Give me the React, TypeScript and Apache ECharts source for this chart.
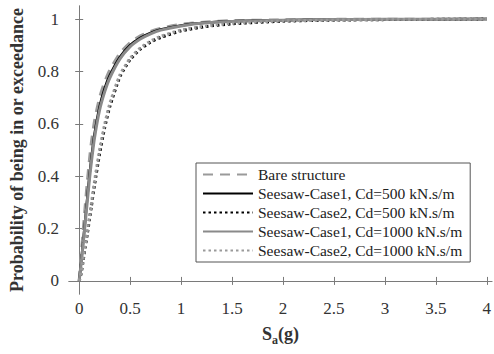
import React, { useEffect, useRef } from "react";
import * as echarts from "echarts";

const seriesNames = [
  "Bare structure",
  "Seesaw-Case1, Cd=500 kN.s/m",
  "Seesaw-Case2, Cd=500 kN.s/m",
  "Seesaw-Case1, Cd=1000 kN.s/m",
  "Seesaw-Case2, Cd=1000 kN.s/m",
];

const sa = [0, 0.02, 0.04, 0.06, 0.08, 0.1, 0.12, 0.15, 0.2, 0.25, 0.3, 0.4, 0.5, 0.6, 0.7, 0.8, 1.0, 1.25, 1.5, 2, 2.5, 3, 4];

const bare = [0, 0.1, 0.195, 0.29, 0.38, 0.46, 0.53, 0.61, 0.7, 0.76, 0.805, 0.87, 0.91, 0.936, 0.953, 0.965, 0.98, 0.989, 0.994, 0.997, 0.999, 0.9995, 1];
const case1Cd500 = [0, 0.075, 0.155, 0.235, 0.32, 0.4, 0.47, 0.56, 0.665, 0.735, 0.785, 0.855, 0.9, 0.928, 0.947, 0.96, 0.976, 0.987, 0.992, 0.996, 0.998, 0.999, 1];
const case2Cd500 = [0, 0.03, 0.08, 0.13, 0.18, 0.232, 0.285, 0.365, 0.485, 0.585, 0.665, 0.78, 0.845, 0.885, 0.912, 0.93, 0.955, 0.972, 0.982, 0.992, 0.996, 0.998, 1];
const case1Cd1000 = [0, 0.07, 0.145, 0.225, 0.305, 0.385, 0.455, 0.545, 0.652, 0.722, 0.775, 0.848, 0.895, 0.924, 0.944, 0.958, 0.974, 0.986, 0.991, 0.996, 0.998, 0.999, 1];
const case2Cd1000 = [0, 0.035, 0.085, 0.138, 0.19, 0.243, 0.297, 0.38, 0.5, 0.598, 0.677, 0.787, 0.85, 0.89, 0.916, 0.934, 0.958, 0.974, 0.984, 0.993, 0.996, 0.998, 1];

const xTicks = [0, 0.5, 1, 1.5, 2, 2.5, 3, 3.5, 4];
const yTicks = [0, 0.2, 0.4, 0.6, 0.8, 1];

const FONT = "Liberation Serif";
const AXIS_COLOR = "#7a7a7a";
const LABEL_COLOR = "#333";

export default function App() {
  const ref = useRef<HTMLDivElement>(null);
  useEffect(() => {
    if (!ref.current) return;
    const chart = echarts.init(ref.current, null, { renderer: "svg" });
    const fmt = (v: number) => String(Math.round(v * 10) / 10);
    const baseX = {
      type: "value" as const,
      min: -0.1,
      max: 4.05,
      splitLine: { show: false },
      axisLine: { show: true, lineStyle: { color: AXIS_COLOR, width: 1 } },
      axisTick: { show: true, inside: true, length: 4, customValues: xTicks, lineStyle: { color: AXIS_COLOR } },
    };
    const baseY = {
      type: "value" as const,
      min: -0.05,
      max: 1.05,
      splitLine: { show: false },
      axisLine: { show: true, lineStyle: { color: AXIS_COLOR, width: 1 } },
      axisTick: { show: true, inside: true, length: 4, customValues: yTicks, lineStyle: { color: AXIS_COLOR } },
    };
    const styles = [
      { color: "#9a9a9a", width: 3, type: [10, 7] },
      { color: "#000000", width: 2.5, type: "solid" },
      { color: "#000000", width: 3, type: [2.5, 3] },
      { color: "#8a8a8a", width: 3, type: "solid" },
      { color: "#9a9a9a", width: 3, type: [2.5, 3] },
    ];
    const datas = [bare, case1Cd500, case2Cd500, case1Cd1000, case2Cd1000];
    chart.setOption({
      animation: false,
      grid: { left: 66, right: 1, top: 6, bottom: 60, containLabel: false },
      legend: {
        orient: "vertical",
        left: 196,
        top: 163,
        width: 273,
        padding: [3, 8, 3, 6],
        backgroundColor: "#fff",
        borderColor: "#555",
        borderWidth: 1,
        borderRadius: 0,
        itemWidth: 50,
        itemHeight: 12,
        itemGap: 2,
        itemStyle: { opacity: 0 },
        textStyle: { fontFamily: FONT, fontSize: 15.5, color: "#222", lineHeight: 17 },
        data: seriesNames,
      },
      xAxis: [
        {
          ...baseX,
          position: "bottom",
          axisLabel: {
            customValues: xTicks,
            formatter: fmt,
            fontFamily: FONT,
            fontSize: 17,
            color: LABEL_COLOR,
            margin: 6,
          },
          name: "{s|S}{sub|a}{s|(g)}",
          nameLocation: "middle",
          nameGap: 28,
          nameTextStyle: {
            fontFamily: FONT,
            rich: {
              s: { fontFamily: FONT, fontSize: 18, fontWeight: "bold", color: "#333" },
              sub: { fontFamily: FONT, fontSize: 12, fontWeight: "bold", color: "#333", padding: [12, 0, 0, 0] },
            },
          },
        },
        { ...baseX, position: "top", axisLabel: { show: false } },
      ],
      yAxis: [
        {
          ...baseY,
          position: "left",
          axisLabel: {
            customValues: yTicks,
            formatter: fmt,
            fontFamily: FONT,
            fontSize: 17,
            color: LABEL_COLOR,
            margin: 10,
          },
          name: "Probability of being in or exceedance",
          nameLocation: "middle",
          nameGap: 43,
          nameTextStyle: { fontFamily: FONT, fontSize: 18, fontWeight: "bold", color: "#333" },
        },
        { ...baseY, position: "right", axisLabel: { show: false } },
      ],
      series: datas.map((d, i) => ({
        name: seriesNames[i],
        type: "line",
        data: sa.map((x, j) => [x, d[j]]),
        smooth: 0.2,
        showSymbol: false,
        symbol: "none",
        lineStyle: styles[i],
        itemStyle: { color: styles[i].color },
        z: 2 + i,
      })),
    });
    return () => chart.dispose();
  }, []);
  return (
    <div
      ref={ref}
      style={{ position: "fixed", left: 0, top: 0, width: 494, height: 354, background: "#fff" }}
    />
  );
}
